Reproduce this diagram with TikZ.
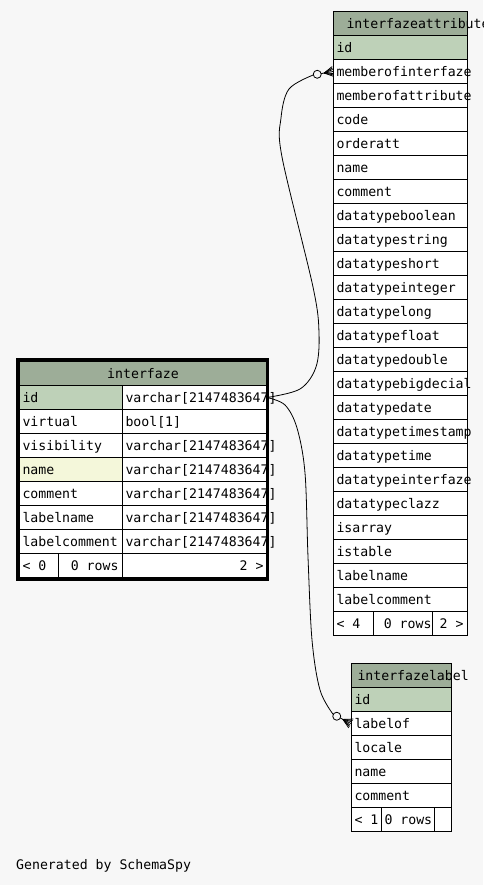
\documentclass[tikz,border=0pt]{standalone}
\usepackage{fontspec}
\setmonofont{DejaVu Sans Mono}
\usetikzlibrary{calc}

\definecolor{bg}{HTML}{F7F7F7}
\definecolor{headfill}{HTML}{9DAD98}
\definecolor{keyfill}{HTML}{BED1B8}
\definecolor{idxfill}{HTML}{F4F7DA}

\newcommand\lcell[2]{\makebox[#1][l]{#2}}
\newcommand\rcell[2]{\makebox[#1][r]{#2}}
\newcommand\ccell[2]{\makebox[#1][c]{#2}}

\tikzset{
  cell/.style={draw=black, line width=1pt, fill=white, anchor=north west,
    minimum height=24pt, inner ysep=0pt, inner xsep=3pt,
    text height=9.6pt, text depth=0pt,
    font=\ttfamily\fontsize{13.2}{14}\selectfont},
  head/.style={cell, fill=headfill},
  key/.style={cell, fill=keyfill},
  idx/.style={cell, fill=idxfill},
  frame/.style={draw=black, line width=3pt},
  edge/.style={draw=black, line width=0.8pt},
  caption/.style={anchor=west, inner sep=0pt,
    font=\ttfamily\fontsize{13.2}{14}\selectfont}
}

\begin{document}
\begin{tikzpicture}[x=1pt, y=-1pt]
\fill[bg] (0,0) rectangle (483,885);
\useasboundingbox (0,0) rectangle (483,885);

% ---------------- table interfazeattribute ----------------
\node[head] (ah) at (333,11) {\lcell{128pt}{\hspace{10pt}interfazeattribute}};
\node[key] (a1) at (333,35) {\lcell{128pt}{id}};
\foreach \t [count=\i from 2] in {memberofinterfaze, memberofattribute, code,
  orderatt, name, comment, datatypeboolean, datatypestring, datatypeshort,
  datatypeinteger, datatypelong, datatypefloat, datatypedouble,
  datatypebigdecial, datatypedate, datatypetimestamp, datatypetime,
  datatypeinterfaze, datatypeclazz, isarray, istable, labelname, labelcomment}
  \node[cell] (a\i) at (333,{35+24*(\i-1)}) {\lcell{128pt}{\t}};
\node[cell] (af1) at (333,611) {\lcell{34pt}{< 4}};
\node[cell, inner xsep=1pt] (af2) at (373,611) {\rcell{57pt}{0 rows}};
\node[cell, inner xsep=4pt] (af3) at (432,611) {\rcell{27pt}{2 >}};

% ---------------- table interfaze ----------------
\node[head] (ih) at (19,361) {\ccell{241pt}{interfaze}};
\node[key] (i1a) at (19,385) {\lcell{97pt}{id}};
\node[cell] (i1b) at (122,385) {\lcell{138pt}{varchar[2147483647]}};
\node[cell] (i2a) at (19,409) {\lcell{97pt}{virtual}};
\node[cell] (i2b) at (122,409) {\lcell{138pt}{bool[1]}};
\node[cell] (i3a) at (19,433) {\lcell{97pt}{visibility}};
\node[cell] (i3b) at (122,433) {\lcell{138pt}{varchar[2147483647]}};
\node[idx] (i4a) at (19,457) {\lcell{97pt}{name}};
\node[cell] (i4b) at (122,457) {\lcell{138pt}{varchar[2147483647]}};
\node[cell] (i5a) at (19,481) {\lcell{97pt}{comment}};
\node[cell] (i5b) at (122,481) {\lcell{138pt}{varchar[2147483647]}};
\node[cell] (i6a) at (19,505) {\lcell{97pt}{labelname}};
\node[cell] (i6b) at (122,505) {\lcell{138pt}{varchar[2147483647]}};
\node[cell] (i7a) at (19,529) {\lcell{97pt}{labelcomment}};
\node[cell] (i7b) at (122,529) {\lcell{138pt}{varchar[2147483647]}};
\node[cell] (if1) at (19,553) {\lcell{33pt}{< 0}};
\node[cell, inner xsep=4pt] (if2) at (58,553) {\rcell{56pt}{0 rows}};
\node[cell] (if3) at (122,553) {\rcell{138pt}{2 >}};
\draw[frame] (17.5,359) rectangle (267.5,579);

% ---------------- table interfazelabel ----------------
\node[head] (lh) at (351,663) {\lcell{94pt}{\hspace{3pt}interfazelabel}};
\node[key] (l1) at (351,687) {\lcell{94pt}{id}};
\foreach \t [count=\i from 2] in {labelof, locale, name, comment}
  \node[cell] (l\i) at (351,{687+24*(\i-1)}) {\lcell{94pt}{\t}};
\node[cell] (lf1) at (351,807) {\lcell{24pt}{< 1}};
\node[cell] (lf2) at (381,807) {\lcell{47pt}{0 rows}};
\node[cell] (lf3) at (434,807) {\lcell{11pt}{}};

% ---------------- relationships ----------------
% interfaze.id -> interfazeattribute.memberofinterfaze
\coordinate (e1) at ($(a2.west)+(170:20)$);
\coordinate (o1) at ($(a2.west)+(170:16)$);
\coordinate (v1) at ($(a2.west)+(170:9)$);
\draw[edge] plot[smooth, tension=0.55] coordinates {(i1b.east) (300,389)
  (316,367) (319,333) (313,287) (282,157) (281,118) (289,89) (e1)};
\draw[edge] ($(a2.west)+(170:12)$) -- (a2.west);
\foreach \s in {-5,-3.5,-2,2,3.5,5}
  \draw[edge] (v1) -- ($(a2.west)+(80:\s)$);
\draw[edge, fill=bg] (o1) circle[radius=4pt];

% interfaze.id -> interfazelabel.labelof
\coordinate (e2) at ($(l2.west)+(207:20)$);
\coordinate (o2) at ($(l2.west)+(207:16)$);
\coordinate (v2) at ($(l2.west)+(207:9)$);
\draw[edge] plot[smooth, tension=0.55] coordinates {(i1b.east) (285,405)
  (297,428) (305,473) (308,557) (312,640) (320,690) (e2)};
\draw[edge] ($(l2.west)+(207:12)$) -- (l2.west);
\foreach \s in {-5,-3.5,-2,2,3.5,5}
  \draw[edge] (v2) -- ($(l2.west)+(117:\s)$);
\draw[edge, fill=bg] (o2) circle[radius=4pt];

% ---------------- footer ----------------
\node[caption] (gen) at (16,866) {Generated by SchemaSpy};
\end{tikzpicture}
\end{document}
